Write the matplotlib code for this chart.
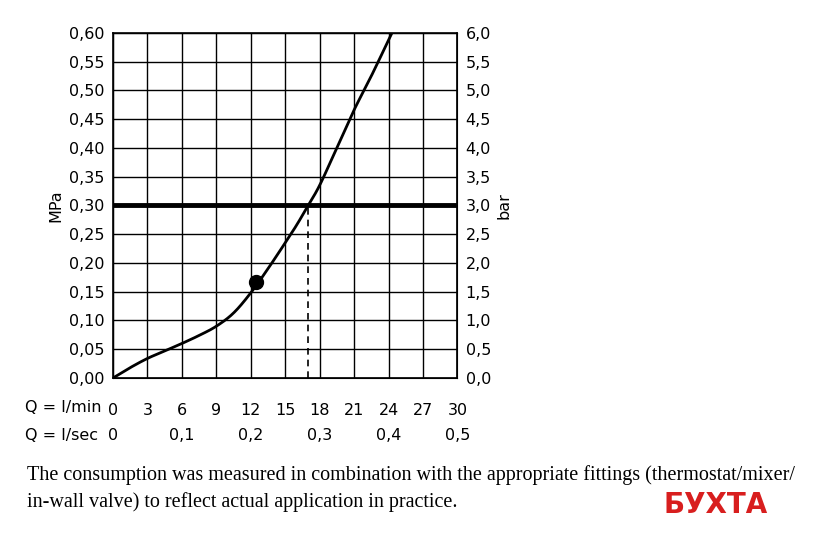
import matplotlib
matplotlib.use("Agg")
import matplotlib.pyplot as plt
from matplotlib.transforms import blended_transform_factory
import numpy as np

# flow (l/min) vs pressure (MPa)
flow = [0, 1.5, 3, 4.5, 6, 7.5, 9, 10.5, 12, 13.5, 15, 16, 17, 18, 19.5, 21, 22.5, 24.3]
pressure = [0.0, 0.018, 0.034, 0.047, 0.060, 0.074, 0.090, 0.113, 0.148, 0.19, 0.235,
            0.266, 0.30, 0.335, 0.40, 0.466, 0.525, 0.60]
dot_flow, dot_pressure = 12.5, 0.167
mark_flow, mark_pressure = 17.0, 0.30

lmin_ticks = [0, 3, 6, 9, 12, 15, 18, 21, 24, 27, 30]
lsec_ticks = [0, 0.1, 0.2, 0.3, 0.4, 0.5]
mpa_ticks = np.arange(0, 0.61, 0.05)

def comma(v, fmt):
    return (fmt % v).replace(".", ",")

def catmull_rom(x, y, n=20):
    # smooth the read points for drawing
    p = np.column_stack([x, y])
    p = np.vstack([p[0], p, p[-1]])
    out = []
    t = np.linspace(0, 1, n, endpoint=False)[:, None]
    for i in range(1, len(p) - 2):
        p0, p1, p2, p3 = p[i - 1], p[i], p[i + 1], p[i + 2]
        out.append(0.5 * (2 * p1 + (p2 - p0) * t + (2 * p0 - 5 * p1 + 4 * p2 - p3) * t**2
                          + (3 * p1 - p0 - 3 * p2 + p3) * t**3))
    out.append(p[-2][None, :])
    out = np.vstack(out)
    return out[:, 0], out[:, 1]

fig = plt.figure(figsize=(8.4, 5.4), dpi=100)
ax = fig.add_axes([0.1345, 0.30, 0.41, 0.639])

cx, cy = catmull_rom(flow, pressure)
ax.plot(cx, cy, color="black", lw=2)
ax.plot(dot_flow, dot_pressure, "o", color="black", ms=10)
ax.axhline(mark_pressure, color="black", lw=3.5)
ax.plot([mark_flow, mark_flow], [0, mark_pressure], color="black", lw=1.2, ls=(0, (4, 3)))

ax.set_xlim(0, 30)
ax.set_ylim(0, 0.6)
ax.set_xticks(lmin_ticks)
ax.set_xticklabels([str(t) for t in lmin_ticks])
ax.set_yticks(mpa_ticks)
ax.set_yticklabels([comma(v, "%.2f") for v in mpa_ticks])
ax.grid(True, color="black", lw=1)
ax.tick_params(length=0, labelsize=11.5, pad=6)
ax.tick_params(axis="x", pad=18)
for s in ax.spines.values():
    s.set_linewidth(1.2)
ax.set_ylabel("MPa", fontsize=11.5)

ax2 = ax.twinx()
ax2.set_ylim(0, 6)
ax2.set_yticks(np.arange(0, 6.1, 0.5))
ax2.set_yticklabels([comma(v, "%.1f") for v in np.arange(0, 6.1, 0.5)])
ax2.tick_params(length=0, labelsize=11.5, pad=6)
ax2.set_ylabel("bar", fontsize=11.5)

tr = blended_transform_factory(ax.transData, fig.transFigure)
fig.text(0.03, 1 - 407 / 540, "Q = l/min", fontsize=11.5, va="center")
fig.text(0.03, 1 - 435 / 540, "Q = l/sec", fontsize=11.5, va="center")
for t in lsec_ticks:
    ax.text(t * 60, 1 - 435 / 540, comma(t, "%.1f") if t else "0", transform=tr,
            ha="center", va="center", fontsize=11.5)

fig.text(0.032, 1 - 475 / 540,
         "The consumption was measured in combination with the appropriate fittings (thermostat/mixer/",
         family="Liberation Serif", fontsize=14.5, va="center")
fig.text(0.032, 1 - 502 / 540,
         "in-wall valve) to reflect actual application in practice.",
         family="Liberation Serif", fontsize=14.5, va="center")
fig.text(0.79, 1 - 505 / 540, "БУХТА", color="#d81e1e", fontsize=20,
         fontweight="bold", va="center")

fig.savefig("out.png")
